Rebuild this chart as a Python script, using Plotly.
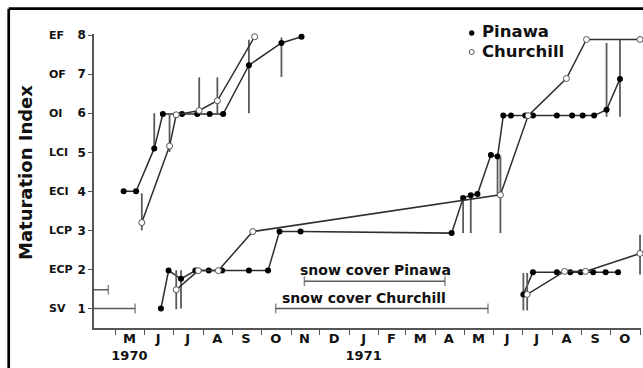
import plotly.graph_objects as go

# ---------------- data ----------------
level_vals = [1, 2, 3, 4, 5, 6, 7, 8]
level_codes = ["SV", "ECP", "LCP", "ECI", "LCI", "OI", "OF", "EF"]

month_ticks = ["1970-05-16", "1970-06-15", "1970-07-16", "1970-08-16", "1970-09-15",
               "1970-10-16", "1970-11-15", "1970-12-16", "1971-01-16", "1971-02-14",
               "1971-03-16", "1971-04-15", "1971-05-16", "1971-06-15", "1971-07-16",
               "1971-08-16", "1971-09-15", "1971-10-16"]
month_labels = ["M<br>1970", "J", "J", "A", "S", "O", "N", "D", "J<br>1971", "F",
                "M", "A", "M", "J", "J", "A", "S", "O"]

# Pinawa, cohort maturing 1970
pin_a_dates = ["1970-05-10", "1970-05-23", "1970-06-11", "1970-06-20", "1970-07-10",
               "1970-07-26", "1970-08-08", "1970-08-22", "1970-09-18", "1970-10-22",
               "1970-11-12"]
pin_a_vals = [4.0, 4.0, 5.1, 5.98, 5.98, 5.98, 5.98, 5.98, 7.23, 7.8, 7.96]
pin_a_up = [0, 0, 0.9, 0, 0, 0, 0, 0, 0.65, 0.14, 0]
pin_a_dn = [0, 0, 0, 0, 0, 0, 0, 0, 1.23, 0.87, 0]

# Churchill, cohort maturing 1970
chu_a_dates = ["1970-05-29", "1970-06-27", "1970-07-04", "1970-07-28", "1970-08-16",
               "1970-09-24"]
chu_a_vals = [3.2, 5.16, 5.96, 6.07, 6.32, 7.96]
chu_a_up = [0.75, 0.8, 0, 0.85, 0.6, 0]
chu_a_dn = [0.2, 0.15, 0, 0, 0.36, 0]

# Pinawa, cohort maturing 1971
pin_b_dates = ["1970-06-18", "1970-06-26", "1970-07-09", "1970-07-24", "1970-08-07",
               "1970-08-21", "1970-09-18", "1970-10-08", "1970-10-20", "1970-11-11",
               "1971-04-18", "1971-04-30", "1971-05-08", "1971-05-15", "1971-05-29",
               "1971-06-05", "1971-06-11", "1971-06-19", "1971-07-04", "1971-07-12",
               "1971-08-06", "1971-08-22", "1971-09-02", "1971-09-14", "1971-09-27",
               "1971-10-11"]
pin_b_vals = [1.0, 1.97, 1.76, 1.97, 1.97, 1.97, 1.97, 1.97, 2.97, 2.97,
              2.93, 3.83, 3.9, 3.93, 4.93, 4.89, 5.94, 5.94, 5.94, 5.94,
              5.94, 5.94, 5.94, 5.94, 6.09, 6.88]
pin_b_up = [0, 0, 0.22, 0, 0, 0, 0, 0, 0, 0,
            0, 0, 0, 0, 0, 0, 0, 0, 0, 0,
            0, 0, 0, 0, 1.71, 1.0]
pin_b_dn = [0, 0, 0.76, 0, 0, 0, 0, 0, 0, 0,
            0, 0.9, 0.97, 0, 0, 1.0, 0, 0, 0, 0,
            0, 0, 0, 0, 0.18, 0.97]

# Churchill, cohort maturing 1971
chu_b_dates = ["1970-07-04", "1970-07-27", "1970-08-17", "1970-09-22", "1971-06-08",
               "1971-07-07", "1971-08-16", "1971-09-06", "1971-11-01"]
chu_b_vals = [1.48, 1.97, 1.97, 2.97, 3.91, 5.94, 6.89, 7.89, 7.89]
chu_b_up = [0.5, 0, 0, 0, 0.98, 0, 0, 0, 0]
chu_b_dn = [0.5, 0, 0, 0, 0.98, 0, 0, 0, 0]

# Pinawa, cohort starting 1971
pin_c_dates = ["1971-07-02", "1971-07-12", "1971-08-06", "1971-08-20", "1971-08-31",
               "1971-09-13", "1971-09-26", "1971-10-09"]
pin_c_vals = [1.36, 1.93, 1.93, 1.93, 1.93, 1.93, 1.93, 1.93]
pin_c_up = [0.55, 0, 0, 0, 0, 0, 0, 0]
pin_c_dn = [0.41, 0, 0, 0, 0, 0, 0, 0]

# Churchill, cohort starting 1971
chu_c_dates = ["1971-07-06", "1971-08-14", "1971-09-05", "1971-11-01"]
chu_c_vals = [1.36, 1.95, 1.95, 2.41]
chu_c_up = [0.55, 0, 0, 0.48]
chu_c_dn = [0.41, 0, 0, 0.54]

# range bars
sv_bar1_dates = ["1970-04-09", "1970-05-22"]
sv_bar1_val = 1.0
sv_bar2_dates = ["1970-04-09", "1970-04-24"]
sv_bar2_val = 1.48
snow_pin_dates = ["1970-11-15", "1971-04-11"]
snow_pin_val = 1.7
snow_chu_dates = ["1970-10-16", "1971-05-26"]
snow_chu_val = 1.0

x_range = ["1970-04-09", "1971-11-02"]
y_range = [0.5, 8.03]

# ---------------- style ----------------
FONT = "DejaVu Sans"
LINE_C = "#2e2e2e"
ERR_C = "#5a5a5a"
AX_C = "#555555"

W, H = 643, 368
ML, MR, MT, MB = 94, 2, 34, 40
PW, PH = W - ML - MR, H - MT - MB


def px(xp):
    return (xp - ML) / PW


def py(yp):
    return (MT + PH - yp) / PH


fig = go.Figure()


def add_series(dates, vals, up, dn, churchill):
    if churchill:
        marker = dict(symbol="circle", size=6, color="white",
                      line=dict(color="#555555", width=1))
    else:
        marker = dict(symbol="circle", size=6, color="black",
                      line=dict(color="black", width=0))
    fig.add_trace(go.Scatter(
        x=dates, y=vals, mode="lines+markers",
        line=dict(color=LINE_C, width=1.5),
        marker=marker,
        error_y=dict(type="data", symmetric=False, array=up, arrayminus=dn,
                     width=0, thickness=1.8, color=ERR_C),
        cliponaxis=False, showlegend=False, hoverinfo="skip"))


def add_bar(dates, val, caps):
    fig.add_trace(go.Scatter(
        x=dates, y=[val, val], mode="lines+markers",
        line=dict(color=ERR_C, width=1.5),
        marker=dict(symbol="line-ns", size=caps,
                    line=dict(color=ERR_C, width=1.5)),
        cliponaxis=False, showlegend=False, hoverinfo="skip"))


add_bar(sv_bar1_dates, sv_bar1_val, [0, 7])
add_bar(sv_bar2_dates, sv_bar2_val, [0, 7])
add_bar(snow_pin_dates, snow_pin_val, [7, 7])
add_bar(snow_chu_dates, snow_chu_val, [7, 7])

add_series(pin_a_dates, pin_a_vals, pin_a_up, pin_a_dn, False)
add_series(pin_b_dates, pin_b_vals, pin_b_up, pin_b_dn, False)
add_series(pin_c_dates, pin_c_vals, pin_c_up, pin_c_dn, False)
add_series(chu_a_dates, chu_a_vals, chu_a_up, chu_a_dn, True)
add_series(chu_b_dates, chu_b_vals, chu_b_up, chu_b_dn, True)
add_series(chu_c_dates, chu_c_vals, chu_c_up, chu_c_dn, True)

annotations = []
for v, code in zip(level_vals, level_codes):
    annotations.append(dict(xref="paper", yref="y", x=px(47), y=v, text=code,
                            xanchor="left", yanchor="middle", showarrow=False,
                            font=dict(family=FONT, size=11, color="#111", weight="bold")))

annotations.append(dict(xref="paper", yref="paper", x=px(25), y=py(173),
                        text="Maturation Index", textangle=-90, showarrow=False,
                        xanchor="center", yanchor="middle",
                        font=dict(family=FONT, size=18, color="#111", weight="bold")))

annotations.append(dict(xref="x", yref="y", x="1971-01-28", y=snow_pin_val,
                        yshift=11, text="snow cover Pinawa", showarrow=False,
                        xanchor="center", yanchor="middle",
                        font=dict(family=FONT, size=14, color="#111", weight="bold")))
annotations.append(dict(xref="x", yref="y", x="1971-01-16", y=snow_chu_val,
                        yshift=10, text="snow cover Churchill", showarrow=False,
                        xanchor="center", yanchor="middle",
                        font=dict(family=FONT, size=14, color="#111", weight="bold")))

annotations.append(dict(xref="paper", yref="paper", x=px(480), y=py(31.5),
                        text="Pinawa", showarrow=False, xanchor="left", yanchor="middle",
                        font=dict(family=FONT, size=16.5, color="#111", weight="bold")))
annotations.append(dict(xref="paper", yref="paper", x=px(480), y=py(51.5),
                        text="Churchill", showarrow=False, xanchor="left", yanchor="middle",
                        font=dict(family=FONT, size=16.5, color="#111", weight="bold")))

shapes = [
    # frame (top + left)
    dict(type="line", xref="paper", yref="paper", x0=px(8.7), x1=px(643),
         y0=py(8.7), y1=py(8.7), line=dict(color="black", width=2.7)),
    dict(type="line", xref="paper", yref="paper", x0=px(8.7), x1=px(8.7),
         y0=py(8.7), y1=py(368), line=dict(color="black", width=2.7)),
    # legend markers
    dict(type="circle", xref="paper", yref="paper", xsizemode="pixel", ysizemode="pixel",
         xanchor=px(471.7), yanchor=py(33), x0=-2.5, x1=2.5, y0=-2.5, y1=2.5,
         fillcolor="black", line=dict(color="black", width=0.5)),
    dict(type="circle", xref="paper", yref="paper", xsizemode="pixel", ysizemode="pixel",
         xanchor=px(471.7), yanchor=py(52), x0=-2.5, x1=2.5, y0=-2.5, y1=2.5,
         fillcolor="white", line=dict(color="#555555", width=1)),
]

fig.update_layout(
    width=W, height=H,
    margin=dict(l=ML, r=MR, t=MT, b=MB, pad=0, autoexpand=False),
    paper_bgcolor="white", plot_bgcolor="white",
    showlegend=False,
    annotations=annotations,
    shapes=shapes,
    xaxis=dict(
        type="date", range=x_range, automargin=False,
        tickmode="array", tickvals=month_ticks, ticktext=month_labels,
        ticks="outside", ticklen=2, tickcolor="rgba(0,0,0,0)",
        ticklabelstandoff=-4,
        tickfont=dict(family=FONT, size=13, color="#111", weight="bold"),
        showgrid=False, zeroline=False,
        showline=True, linecolor=AX_C, linewidth=1.5,
        minor=dict(ticks="outside", ticklen=5, tickwidth=1.2, tickcolor=AX_C,
                   tickmode="linear", tick0="1970-05-01", dtick="M1", showgrid=False),
    ),
    yaxis=dict(
        range=y_range, automargin=False,
        tickmode="array", tickvals=level_vals, ticktext=[str(v) for v in level_vals],
        ticks="outside", ticklen=4, tickwidth=1.2, tickcolor=AX_C,
        tickfont=dict(family=FONT, size=12, color="#111", weight="bold"),
        showgrid=False, zeroline=False,
        showline=True, linecolor=AX_C, linewidth=1.5,
    ),
)

fig.write_html("out.html")
